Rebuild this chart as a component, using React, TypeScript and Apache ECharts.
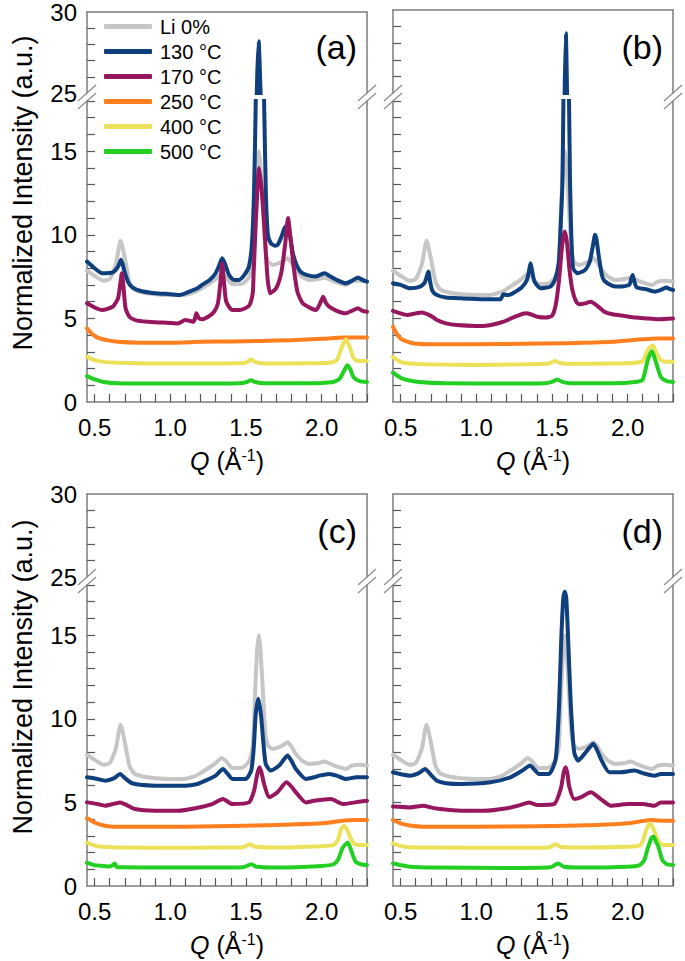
import React, { useEffect, useRef } from 'react';
import * as echarts from 'echarts';

type P = [number, number][];

const seriesNames = ['Li 0%', '130 °C', '170 °C', '250 °C', '400 °C', '500 °C'];
const seriesColors = ['#c6c6c6', '#0f3f7d', '#97175f', '#ff7f1f', '#ece25a', '#24cf24'];
const panelLabels = ['(a)', '(b)', '(c)', '(d)'];
const xTickValues = [0.5, 0.6, 0.7, 0.8, 0.9, 1.0, 1.1, 1.2, 1.3, 1.4, 1.5, 1.6, 1.7, 1.8, 1.9, 2.0, 2.1, 2.2, 2.3];
const xLabelValues = [0.5, 1.0, 1.5, 2.0];
const yLowTicks = [1, 2, 3, 4, 5, 6, 7, 8, 9, 10, 11, 12, 13, 14, 15, 16, 17, 18];
const yLowLabels = [0, 5, 10, 15];
const yHighTicks = [26, 27, 28, 29];
const yHighLabels = [25, 30];

// Li 0% reference (same in all panels)
const li0: P = [[0.45,7.85],[0.5,7.55],[0.56,7.25],[0.6,7.35],[0.64,8.2],[0.672,9.65],[0.7,8.6],[0.73,7.2],[0.76,6.75],[0.82,6.55],[0.9,6.45],[1.0,6.4],[1.1,6.42],[1.16,6.55],[1.2,6.75],[1.26,7.1],[1.3,7.35],[1.34,7.65],[1.37,7.45],[1.41,7.05],[1.47,7.05],[1.52,7.45],[1.545,8.3],[1.562,11.9],[1.575,14.2],[1.586,15.0],[1.597,14.0],[1.613,11.5],[1.628,9.2],[1.645,8.4],[1.68,8.2],[1.72,8.3],[1.75,8.45],[1.775,8.6],[1.8,8.35],[1.83,7.9],[1.87,7.5],[1.92,7.3],[1.98,7.35],[2.02,7.45],[2.06,7.3],[2.1,7.15],[2.16,7.0],[2.2,7.2],[2.25,7.25],[2.3,7.2]];

// panel (a)
const a130: P = [[0.45,8.4],[0.5,8.0],[0.55,7.7],[0.62,7.75],[0.655,8.1],[0.675,8.5],[0.695,7.9],[0.72,7.2],[0.75,6.85],[0.8,6.65],[0.9,6.5],[1.0,6.45],[1.06,6.4],[1.1,6.5],[1.14,6.65],[1.18,6.8],[1.21,7.0],[1.26,7.3],[1.3,7.7],[1.325,8.2],[1.343,8.6],[1.36,8.3],[1.388,7.6],[1.42,7.3],[1.454,7.3],[1.49,7.6],[1.52,8.1],[1.54,9.5],[1.554,12.7],[1.565,18],[1.572,25],[1.584,28.2],[1.597,25],[1.62,18],[1.631,12.7],[1.645,10.0],[1.664,9.5],[1.69,9.35],[1.71,9.4],[1.735,9.9],[1.755,10.4],[1.775,10.6],[1.79,10.0],[1.81,8.9],[1.83,8.3],[1.86,7.8],[1.9,7.6],[1.96,7.5],[1.99,7.6],[2.02,7.7],[2.05,7.55],[2.1,7.3],[2.16,7.1],[2.2,7.25],[2.24,7.45],[2.27,7.3],[2.3,7.2]];
const a170: P = [[0.45,5.9],[0.5,5.65],[0.55,5.5],[0.62,5.7],[0.655,6.2],[0.672,7.2],[0.68,7.7],[0.69,7.0],[0.705,5.6],[0.73,5.1],[0.77,4.9],[0.85,4.8],[0.95,4.75],[1.05,4.7],[1.1,4.9],[1.13,4.85],[1.155,4.8],[1.173,5.3],[1.19,5.0],[1.21,4.95],[1.25,5.1],[1.29,5.4],[1.315,5.9],[1.333,7.3],[1.343,8.3],[1.355,7.2],[1.37,6.0],[1.41,5.5],[1.46,5.5],[1.52,5.75],[1.545,6.5],[1.55,7.5],[1.565,10.7],[1.587,14.0],[1.605,12.6],[1.62,10.7],[1.642,7.5],[1.66,6.5],[1.7,6.8],[1.735,7.8],[1.76,9.5],[1.778,11.0],[1.795,9.8],[1.815,8.1],[1.84,6.6],[1.875,5.9],[1.93,5.6],[1.965,5.5],[1.99,5.9],[2.01,6.3],[2.03,5.9],[2.05,5.7],[2.1,5.45],[2.16,5.3],[2.21,5.5],[2.24,5.6],[2.27,5.45],[2.3,5.4]];
const a250: P = [[0.45,4.4],[0.48,4.1],[0.52,3.85],[0.58,3.7],[0.65,3.6],[0.8,3.55],[1.0,3.55],[1.2,3.6],[1.4,3.62],[1.6,3.65],[1.8,3.7],[2.0,3.78],[2.15,3.85],[2.3,3.85]];
const a400: P = [[0.45,2.7],[0.5,2.5],[0.56,2.4],[0.65,2.35],[0.9,2.3],[1.2,2.3],[1.45,2.32],[1.5,2.35],[1.535,2.55],[1.56,2.4],[1.62,2.3],[1.9,2.32],[2.05,2.35],[2.1,2.5],[2.13,3.2],[2.16,3.75],[2.185,3.3],[2.21,2.65],[2.24,2.45],[2.3,2.45]];
const a500: P = [[0.45,1.55],[0.5,1.35],[0.56,1.2],[0.65,1.12],[0.9,1.1],[1.2,1.1],[1.45,1.12],[1.5,1.18],[1.535,1.3],[1.56,1.2],[1.62,1.12],[1.9,1.12],[2.08,1.2],[2.12,1.4],[2.15,1.9],[2.17,2.2],[2.19,1.95],[2.21,1.5],[2.25,1.25],[2.3,1.2]];

// panel (b)
const b130: P = [[0.45,7.1],[0.5,7.0],[0.56,6.8],[0.63,6.9],[0.66,7.15],[0.684,7.8],[0.695,7.2],[0.71,6.65],[0.74,6.4],[0.8,6.25],[0.9,6.2],[1.05,6.15],[1.16,6.15],[1.18,6.45],[1.2,6.4],[1.215,6.4],[1.26,6.6],[1.3,6.85],[1.335,7.3],[1.35,7.9],[1.359,8.3],[1.37,7.8],[1.385,7.2],[1.425,6.8],[1.49,6.9],[1.52,7.3],[1.545,8.3],[1.56,11],[1.569,13],[1.576,18],[1.584,25],[1.592,28.6],[1.6,25],[1.613,18],[1.62,13],[1.628,10],[1.64,8.0],[1.669,7.7],[1.72,7.9],[1.75,8.4],[1.77,9.3],[1.785,10.0],[1.795,9.7],[1.81,8.7],[1.83,7.6],[1.846,7.25],[1.9,6.95],[1.95,6.9],[2.01,7.0],[2.025,7.4],[2.034,7.6],[2.045,7.2],[2.06,6.85],[2.12,6.75],[2.18,6.6],[2.22,6.7],[2.255,6.85],[2.28,6.75],[2.3,6.7]];
const b170: P = [[0.45,5.45],[0.5,5.3],[0.54,5.2],[0.6,5.3],[0.64,5.35],[0.7,5.15],[0.74,4.9],[0.8,4.7],[0.87,4.6],[1.0,4.55],[1.05,4.55],[1.12,4.65],[1.18,4.8],[1.23,5.0],[1.27,5.15],[1.326,5.3],[1.36,5.25],[1.403,5.1],[1.46,5.05],[1.5,5.15],[1.525,5.8],[1.547,7.3],[1.569,9.5],[1.585,10.2],[1.6,9.5],[1.615,8.0],[1.635,6.7],[1.66,6.0],[1.68,5.85],[1.72,5.9],[1.757,6.0],[1.8,5.75],[1.846,5.4],[1.9,5.25],[1.978,5.15],[2.05,5.05],[2.12,5.0],[2.2,4.95],[2.3,5.0]];
const b250: P = [[0.45,4.5],[0.47,4.15],[0.5,3.8],[0.54,3.62],[0.59,3.5],[0.7,3.45],[1.0,3.45],[1.3,3.48],[1.6,3.52],[1.9,3.6],[2.1,3.75],[2.2,3.8],[2.3,3.8]];
const b400: P = [[0.45,2.7],[0.5,2.4],[0.56,2.3],[0.7,2.25],[1.0,2.22],[1.3,2.25],[1.48,2.3],[1.52,2.45],[1.55,2.35],[1.6,2.28],[1.9,2.3],[2.05,2.35],[2.1,2.45],[2.133,3.1],[2.166,3.4],[2.19,2.95],[2.22,2.5],[2.26,2.4],[2.3,2.4]];
const b500: P = [[0.45,1.75],[0.5,1.45],[0.55,1.3],[0.62,1.2],[0.8,1.12],[1.2,1.1],[1.45,1.12],[1.5,1.2],[1.536,1.35],[1.57,1.2],[1.62,1.12],[1.9,1.12],[2.05,1.2],[2.1,1.35],[2.133,2.5],[2.16,3.05],[2.19,2.3],[2.22,1.5],[2.26,1.25],[2.3,1.2]];

// panel (c)
const c130: P = [[0.45,6.5],[0.52,6.4],[0.57,6.3],[0.63,6.45],[0.669,6.7],[0.7,6.45],[0.746,6.15],[0.8,6.05],[0.9,6.0],[1.1,6.0],[1.18,6.1],[1.233,6.3],[1.3,6.6],[1.348,7.0],[1.38,6.7],[1.41,6.4],[1.498,6.4],[1.535,6.9],[1.552,8.3],[1.565,10.3],[1.582,11.2],[1.6,10.2],[1.615,8.6],[1.631,7.3],[1.664,6.9],[1.72,7.2],[1.775,7.8],[1.8,7.5],[1.83,7.0],[1.896,6.4],[1.95,6.5],[1.985,6.6],[2.05,6.7],[2.1,6.6],[2.16,6.4],[2.23,6.5],[2.3,6.5]];
const c170: P = [[0.45,5.0],[0.52,4.9],[0.57,4.8],[0.62,4.9],[0.669,5.0],[0.71,4.85],[0.768,4.6],[0.9,4.5],[1.05,4.5],[1.167,4.65],[1.277,4.9],[1.348,5.2],[1.41,4.9],[1.52,5.0],[1.554,5.7],[1.575,6.7],[1.591,7.1],[1.605,6.7],[1.62,6.1],[1.653,5.3],[1.708,5.6],[1.768,6.2],[1.8,5.95],[1.83,5.6],[1.896,5.0],[1.95,5.1],[2.062,5.2],[2.14,4.9],[2.22,5.0],[2.3,5.1]];
const c250: P = [[0.45,4.05],[0.5,3.8],[0.547,3.65],[0.62,3.55],[0.8,3.55],[1.1,3.55],[1.5,3.6],[1.8,3.68],[2.0,3.75],[2.15,3.92],[2.22,3.95],[2.3,3.95]];
const c400: P = [[0.45,2.6],[0.5,2.42],[0.55,2.35],[0.7,2.3],[1.0,2.28],[1.3,2.3],[1.48,2.32],[1.525,2.5],[1.56,2.35],[1.7,2.3],[2.0,2.38],[2.08,2.45],[2.11,2.8],[2.129,3.4],[2.15,3.6],[2.172,3.3],[2.195,2.8],[2.22,2.5],[2.26,2.45],[2.3,2.45]];
const c500: P = [[0.45,1.4],[0.5,1.25],[0.56,1.2],[0.6,1.16],[0.62,1.25],[0.635,1.35],[0.645,1.15],[0.7,1.12],[0.9,1.1],[1.2,1.1],[1.48,1.12],[1.536,1.3],[1.57,1.15],[1.7,1.1],[2.0,1.2],[2.08,1.3],[2.11,1.6],[2.14,2.3],[2.173,2.6],[2.2,2.0],[2.225,1.45],[2.26,1.3],[2.3,1.25]];

// panel (d)
const d130: P = [[0.45,6.8],[0.52,6.65],[0.563,6.6],[0.62,6.75],[0.662,7.0],[0.7,6.65],[0.74,6.3],[0.8,6.15],[0.9,6.1],[1.094,6.2],[1.226,6.5],[1.304,6.9],[1.355,7.2],[1.385,6.95],[1.414,6.7],[1.48,6.7],[1.525,7.6],[1.547,10.8],[1.562,14.8],[1.575,17.2],[1.585,17.6],[1.595,17.2],[1.607,14.8],[1.625,10.8],[1.647,8.0],[1.673,7.5],[1.724,8.0],[1.773,8.5],[1.8,8.1],[1.823,7.6],[1.879,6.8],[1.95,6.8],[2.045,6.9],[2.1,6.75],[2.177,6.6],[2.22,6.7],[2.3,6.7]];
const d170: P = [[0.45,4.75],[0.563,4.7],[0.651,4.8],[0.7,4.7],[0.762,4.6],[0.9,4.5],[1.05,4.5],[1.204,4.65],[1.293,4.85],[1.348,5.0],[1.4,4.85],[1.514,4.9],[1.558,5.8],[1.578,6.8],[1.591,7.1],[1.603,6.7],[1.613,6.0],[1.647,5.2],[1.69,5.3],[1.757,5.6],[1.823,5.2],[1.89,4.8],[2.0,4.9],[2.1,4.9],[2.177,4.8],[2.22,5.0],[2.3,5.0]];
const d250: P = [[0.45,3.95],[0.5,3.75],[0.56,3.62],[0.65,3.55],[1.0,3.55],[1.4,3.58],[1.8,3.65],[2.0,3.75],[2.156,3.95],[2.2,3.92],[2.3,3.9]];
const d400: P = [[0.45,2.55],[0.5,2.4],[0.56,2.32],[0.7,2.3],[1.2,2.28],[1.48,2.3],[1.525,2.5],[1.56,2.33],[1.7,2.3],[2.0,2.35],[2.08,2.42],[2.105,2.8],[2.122,3.35],[2.15,3.75],[2.172,3.4],[2.19,2.95],[2.22,2.5],[2.26,2.45],[2.3,2.45]];
const d500: P = [[0.45,1.35],[0.5,1.25],[0.56,1.15],[0.7,1.1],[1.2,1.08],[1.49,1.12],[1.54,1.35],[1.58,1.15],[1.7,1.1],[2.0,1.15],[2.08,1.25],[2.11,1.55],[2.133,2.25],[2.16,2.9],[2.173,2.95],[2.19,2.6],[2.2,2.45],[2.23,1.55],[2.26,1.3],[2.3,1.25]];

const panelData: P[][] = [
  [li0, a130, a170, a250, a400, a500],
  [li0, b130, b170, b250, b400, b500],
  [li0, c130, c170, c250, c400, c500],
  [li0, d130, d170, d250, d400, d500],
];

const FONT = '"Liberation Sans", Arial, Helvetica, sans-serif';
const LEFTS = [87, 393, 87, 393];
const TOPS = [10, 10, 494, 494];
const PW = 280;
const UH = 83;
const GAP = 8;
const LH = 301;
const AXIS_COLOR = '#7d7d7d';
const TICK_COLOR = '#555';

function buildOption() {
  const grid: any[] = [];
  const xAxis: any[] = [];
  const yAxis: any[] = [];
  const series: any[] = [];
  const graphic: any[] = [];
  const axisLine = { show: true, onZero: false, lineStyle: { color: AXIS_COLOR, width: 1.5 } };
  const noTick = { show: false };
  const noLabel = { show: false };
  const noSplit = { show: false };

  panelData.forEach((data, i) => {
    const L = LEFTS[i];
    const T = TOPS[i];
    const showY = i % 2 === 0;
    grid.push({ left: L, top: T, width: PW, height: UH });
    grid.push({ left: L, top: T + UH + GAP, width: PW, height: LH });

    xAxis.push({
      type: 'value', gridIndex: 2 * i, position: 'top', min: 0.45, max: 2.3,
      axisLine, axisTick: noTick, axisLabel: noLabel, splitLine: noSplit,
    });
    xAxis.push({
      type: 'value', gridIndex: 2 * i + 1, position: 'bottom', min: 0.45, max: 2.3,
      axisLine,
      axisTick: { show: true, inside: true, length: 8, customValues: xTickValues, lineStyle: { color: TICK_COLOR, width: 1.2 } },
      axisLabel: {
        show: true, customValues: xLabelValues, margin: 13, fontSize: 24, color: '#000', fontFamily: FONT,
        formatter: (v: number) => v.toFixed(1),
      },
      splitLine: noSplit,
      name: '{q|Q} (Å{s|-1})',
      nameLocation: 'middle',
      nameGap: 45,
      nameTextStyle: {
        fontSize: 25, color: '#000', fontFamily: FONT, lineHeight: 28,
        rich: {
          q: { fontStyle: 'italic', fontSize: 25, fontFamily: FONT, color: '#000', lineHeight: 28 },
          s: { fontSize: 16, fontFamily: FONT, color: '#000', verticalAlign: 'top', lineHeight: 18 },
        },
      },
    });

    // upper left, upper right, lower left, lower right
    yAxis.push({
      type: 'value', gridIndex: 2 * i, position: 'left', min: 25, max: 30,
      axisLine,
      axisTick: { show: true, inside: true, length: 8, customValues: yHighTicks, lineStyle: { color: TICK_COLOR, width: 1.2 } },
      axisLabel: { show: showY, customValues: yHighLabels, margin: 10, fontSize: 24, color: '#000', fontFamily: FONT },
      splitLine: noSplit,
    });
    yAxis.push({
      type: 'value', gridIndex: 2 * i, position: 'right', min: 25, max: 30,
      axisLine, axisTick: noTick, axisLabel: noLabel, splitLine: noSplit,
    });
    yAxis.push({
      type: 'value', gridIndex: 2 * i + 1, position: 'left', min: 0, max: 18,
      axisLine,
      axisTick: { show: true, inside: true, length: 8, customValues: yLowTicks, lineStyle: { color: TICK_COLOR, width: 1.2 } },
      axisLabel: { show: showY, customValues: yLowLabels, margin: 10, fontSize: 24, color: '#000', fontFamily: FONT },
      splitLine: noSplit,
    });
    yAxis.push({
      type: 'value', gridIndex: 2 * i + 1, position: 'right', min: 0, max: 18,
      axisLine, axisTick: noTick, axisLabel: noLabel, splitLine: noSplit,
    });

    data.forEach((d, k) => {
      const base = {
        type: 'line', name: seriesNames[k], data: d, showSymbol: false, symbol: 'none',
        smooth: 0.2, clip: true,
        lineStyle: { color: seriesColors[k], width: 4, cap: 'round', join: 'round' },
        itemStyle: { color: seriesColors[k] },
        emphasis: { disabled: true },
        z: 2 + k,
      };
      series.push({ ...base, xAxisIndex: 2 * i + 1, yAxisIndex: 4 * i + 2 });
      if (k === 1) series.push({ ...base, xAxisIndex: 2 * i, yAxisIndex: 4 * i });
    });

    // break marks on both sides
    const yb1 = T + UH;
    const yb2 = T + UH + GAP;
    [L, L + PW].forEach((x) => {
      [yb1, yb2].forEach((yb) => {
        graphic.push({
          type: 'line', z: 100,
          shape: { x1: x - 9, y1: yb + 8, x2: x + 9, y2: yb - 8 },
          style: { stroke: '#8a8a8a', lineWidth: 1.2 },
        });
      });
    });

    graphic.push({
      type: 'text', z: 100, x: L + PW - 10, y: T + 37,
      style: { text: panelLabels[i], font: `34px ${FONT}`, fill: '#000', align: 'right', verticalAlign: 'middle' },
    });
    if (showY) {
      graphic.push({
        type: 'text', z: 100, x: 23, y: T + 183, rotation: Math.PI / 2,
        style: { text: 'Normalized Intensity (a.u.)', font: `27px ${FONT}`, fill: '#000', align: 'center', verticalAlign: 'middle' },
      });
    }
  });

  return {
    animation: false,
    backgroundColor: '#fff',
    textStyle: { fontFamily: FONT },
    legend: {
      data: seriesNames,
      orient: 'vertical',
      left: 104,
      top: 16,
      padding: 0,
      itemWidth: 48,
      itemHeight: 5,
      itemGap: 4,
      icon: 'roundRect',
      selectedMode: false,
      textStyle: { fontSize: 20, fontFamily: FONT, color: '#000', lineHeight: 21, padding: [0, 0, 0, 3] },
    },
    grid,
    xAxis,
    yAxis,
    series,
    graphic,
  };
}

export default function App() {
  const ref = useRef<HTMLDivElement>(null);
  useEffect(() => {
    if (!ref.current) return;
    const chart = echarts.init(ref.current, undefined, { renderer: 'svg' });
    chart.setOption(buildOption() as any);
    return () => chart.dispose();
  }, []);
  return (
    <div
      ref={ref}
      style={{ position: 'absolute', left: 0, top: 0, width: 685, height: 961, background: '#fff' }}
    />
  );
}
